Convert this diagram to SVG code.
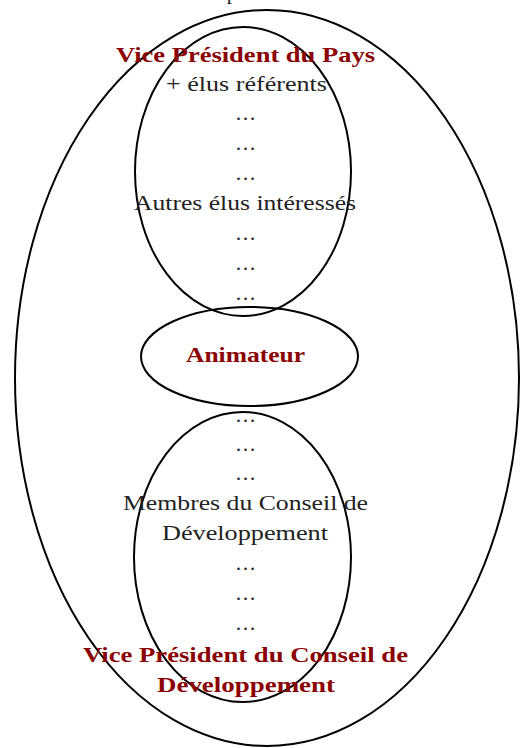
<svg xmlns="http://www.w3.org/2000/svg" width="524" height="748" viewBox="0 0 524 748">
  <style>
    .ring { fill: none; stroke: #000; stroke-width: 2; }
    .t { font-family: "Liberation Serif", "DejaVu Serif", serif; font-size: 21px; text-anchor: middle; fill: #222; }
    .h { font-family: "Liberation Serif", "DejaVu Serif", serif; font-size: 21px; font-weight: bold; text-anchor: middle; fill: #8b0000; }
  </style>
  <rect width="524" height="748" fill="#fff"/>
  <text class="t" x="232" y="-1">p</text>

  <g id="pays">
    <ellipse class="ring" cx="267" cy="378" rx="252" ry="368"/>
  </g>

  <g id="elus">
    <ellipse class="ring" cx="243" cy="171.5" rx="108" ry="144.5"/>
    <text class="h" x="245.5" y="62" textLength="259" lengthAdjust="spacingAndGlyphs">Vice Président du Pays</text>
    <text class="t" x="246.5" y="91" textLength="161" lengthAdjust="spacingAndGlyphs">+ élus référents</text>
    <text class="t" x="245.5" y="120">…</text>
    <text class="t" x="245.5" y="150">…</text>
    <text class="t" x="245.5" y="180">…</text>
    <text class="t" x="245" y="210" textLength="222" lengthAdjust="spacingAndGlyphs">Autres élus intéressés</text>
    <text class="t" x="245.5" y="240">…</text>
    <text class="t" x="245.5" y="270">…</text>
    <text class="t" x="245.5" y="300">…</text>
  </g>

  <g id="animateur">
    <ellipse class="ring" cx="249.5" cy="356.5" rx="108.5" ry="49.5"/>
    <text class="h" x="245.5" y="362" textLength="119" lengthAdjust="spacingAndGlyphs">Animateur</text>
  </g>

  <g id="conseil">
    <ellipse class="ring" cx="242.5" cy="557" rx="108.5" ry="145"/>
    <text class="t" x="245.5" y="422">…</text>
    <text class="t" x="245.5" y="451">…</text>
    <text class="t" x="245.5" y="480">…</text>
    <text class="t" x="245.5" y="510" textLength="245" lengthAdjust="spacingAndGlyphs">Membres du Conseil de</text>
    <text class="t" x="245" y="540" textLength="166" lengthAdjust="spacingAndGlyphs">Développement</text>
    <text class="t" x="245.5" y="570">…</text>
    <text class="t" x="245.5" y="600">…</text>
    <text class="t" x="245.5" y="630">…</text>
    <text class="h" x="245.5" y="662" textLength="325" lengthAdjust="spacingAndGlyphs">Vice Président du Conseil de</text>
    <text class="h" x="246" y="692" textLength="178" lengthAdjust="spacingAndGlyphs">Développement</text>
  </g>

  <g id="connectors"></g>
</svg>
